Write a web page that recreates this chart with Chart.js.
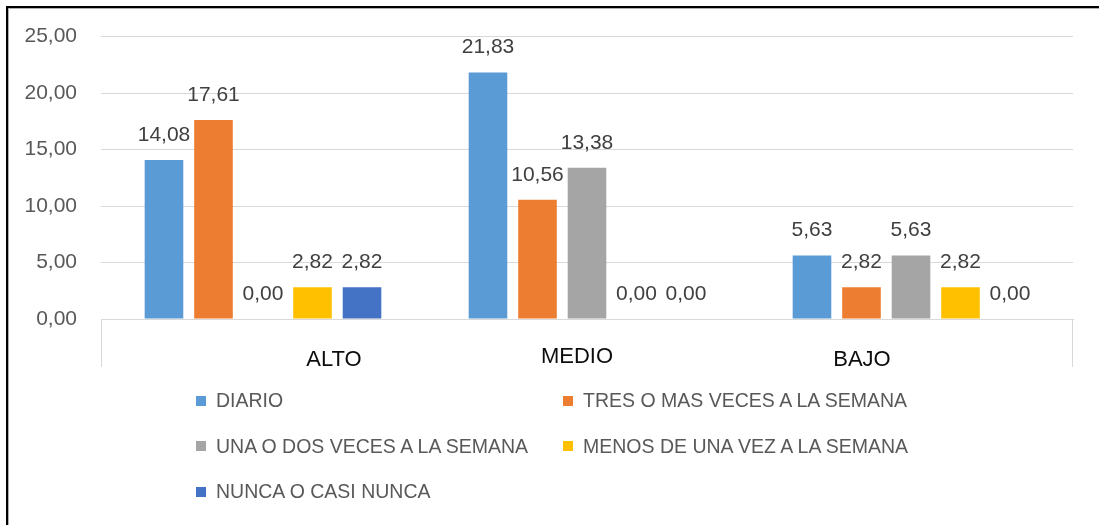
<!doctype html>
<html lang="es">
<head>
<meta charset="utf-8">
<title>Chart</title>
<script src="https://cdn.jsdelivr.net/npm/chart.js@4.4.1/dist/chart.umd.min.js"></script>
<style>
  body { margin: 0; background: #fff; font-family: "Liberation Sans", Arial, sans-serif; }
  #wrap { position: relative; width: 1099px; height: 525px; overflow: hidden; }
  #frame { position: absolute; left: 6px; top: 6px; right: 0; bottom: 0;
           border-top: 2px solid #000; border-left: 2px solid #000;
           box-shadow: inset 1px 1px 0 #b0b0b0; }
  #chartBox { position: absolute; left: 0; top: 0; width: 1099px; height: 380px; }
  #legend { position: absolute; left: 196px; top: 378px; display: grid;
            grid-template-columns: 367px auto; grid-auto-rows: 45.5px; }
  .item { display: flex; align-items: center; font-size: 19.5px; color: #595959; white-space: nowrap; }
  .key { width: 10px; height: 10px; margin-right: 10px; }
</style>
</head>
<body>
<div id="wrap">
  <div id="frame"></div>
  <div id="chartBox"><canvas id="myChart"></canvas></div>
  <div id="legend"></div>
</div>
<script>
// datos
const categories = ['ALTO', 'MEDIO', 'BAJO'];
const seriesNames = ['DIARIO', 'TRES O MAS VECES A LA SEMANA', 'UNA O DOS VECES A LA SEMANA',
                     'MENOS DE UNA VEZ A LA SEMANA', 'NUNCA O CASI NUNCA'];
const diario = [14.08, 21.83, 5.63];
const tresOMas = [17.61, 10.56, 2.82];
const unaODos = [0.00, 13.38, 5.63];
const menosDeUna = [2.82, 0.00, 2.82];
const nunca = [2.82, 0.00, 0.00];
const yTicks = [0, 5, 10, 15, 20, 25];

const colors = ['#5B9BD5', '#ED7D31', '#A5A5A5', '#FFC000', '#4472C4'];
const seriesValues = [diario, tresOMas, unaODos, menosDeUna, nunca];

// desplazamiento de las etiquetas de categoria (como en el original)
const catLabelDx = [71, -10, -49];
const catLabelDy = [41, 38, 41];

const fmt = v => v.toFixed(2).replace('.', ',');

Chart.defaults.font.family = '"Liberation Sans", Arial, sans-serif';

const valueLabels = {
  id: 'valueLabels',
  afterDatasetsDraw(chart) {
    const ctx = chart.ctx;
    ctx.save();
    ctx.font = '21px "Liberation Sans", Arial, sans-serif';
    ctx.fillStyle = '#404040';
    ctx.textAlign = 'center';
    ctx.textBaseline = 'alphabetic';
    chart.data.datasets.forEach((ds, i) => {
      chart.getDatasetMeta(i).data.forEach((bar, j) => {
        ctx.fillText(fmt(ds.data[j]), bar.x, bar.y - 19);
      });
    });
    ctx.restore();
  }
};

const categoryAxis = {
  id: 'categoryAxis',
  afterDraw(chart) {
    const ctx = chart.ctx;
    const area = chart.chartArea;
    const xs = chart.scales.x;
    ctx.save();
    ctx.strokeStyle = '#d9d9d9';
    ctx.lineWidth = 1;
    ctx.beginPath();
    ctx.moveTo(area.left + 0.5, area.bottom);
    ctx.lineTo(area.left + 0.5, area.bottom + 48);
    ctx.moveTo(area.right - 0.5, area.bottom);
    ctx.lineTo(area.right - 0.5, area.bottom + 48);
    ctx.stroke();
    ctx.font = '22px "Liberation Sans", Arial, sans-serif';
    ctx.fillStyle = '#0d0d0d';
    ctx.textAlign = 'center';
    ctx.textBaseline = 'middle';
    categories.forEach((c, i) => {
      ctx.fillText(c, xs.getPixelForValue(i) + catLabelDx[i], area.bottom + catLabelDy[i]);
    });
    ctx.restore();
  }
};

const datasets = seriesNames.map((name, i) => ({
  label: name,
  data: seriesValues[i],
  backgroundColor: colors[i],
  borderWidth: 0,
  barPercentage: 0.78,
  categoryPercentage: 0.764
}));

new Chart(document.getElementById('myChart'), {
  type: 'bar',
  data: { labels: categories, datasets: datasets },
  options: {
    responsive: true,
    maintainAspectRatio: false,
    animation: false,
    layout: { padding: { left: 0, right: 26, top: 34, bottom: 0 } },
    plugins: { legend: { display: false }, tooltip: { enabled: false } },
    scales: {
      x: {
        grid: { display: false },
        border: { display: true, color: '#d9d9d9' },
        ticks: { display: false },
        afterFit(scale) { scale.height = 61; }
      },
      y: {
        min: 0,
        max: 25,
        afterBuildTicks(scale) { scale.ticks = yTicks.map(v => ({ value: v })); },
        grid: { color: '#d9d9d9', drawTicks: false },
        border: { display: false },
        ticks: {
          padding: 24,
          color: '#595959',
          font: { size: 21 },
          callback: v => fmt(v)
        },
        afterFit(scale) { scale.width = 101; }
      }
    }
  },
  plugins: [valueLabels, categoryAxis]
});

// leyenda en dos columnas
const legend = document.getElementById('legend');
seriesNames.forEach((name, i) => {
  const item = document.createElement('div');
  item.className = 'item';
  const key = document.createElement('span');
  key.className = 'key';
  key.style.background = colors[i];
  item.appendChild(key);
  item.appendChild(document.createTextNode(name));
  legend.appendChild(item);
});
</script>
</body>
</html>
